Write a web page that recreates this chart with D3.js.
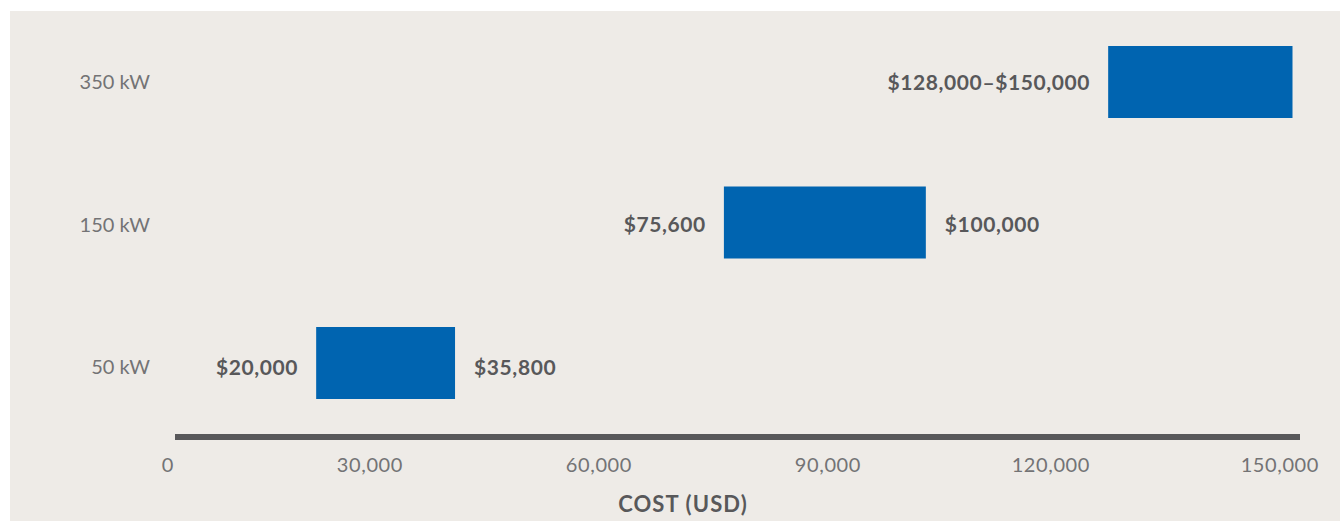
<!DOCTYPE html>
<html>
<head>
<meta charset="utf-8">
<script src="https://cdn.jsdelivr.net/npm/d3@7"></script>
<style>
  body { margin: 0; background: #ffffff; }
  svg { display: block; font-family: Lato, "Open Sans", sans-serif; }
  .catLabel { font-size: 20px; font-weight: 400; fill: #737375; }
  .tickLabel { font-size: 20px; font-weight: 400; fill: #737375; letter-spacing: 0.6px; }
  .valueLabel { font-size: 21px; font-weight: 700; fill: #58585a; letter-spacing: 0.6px; }
  .axisTitle { font-size: 22px; font-weight: 700; fill: #58585a; letter-spacing: 1.1px; }
</style>
</head>
<body>
<div id="chart"></div>
<script>
// data
var categories = ["350 kW", "150 kW", "50 kW"];
var lowCost = [128000, 75600, 20000];
var highCost = [150000, 100000, 35800];
var splitLabel = [false, true, true]; // 350 kW shows one "low–high" label
var tickValues = [0, 30000, 60000, 90000, 120000, 150000];
var axisTitle = "COST (USD)";

var rows = categories.map(function(c, i) {
  return {cat: c, low: lowCost[i], high: highCost[i], split: splitLabel[i]};
});

// area space
var width = 1340;
var height = 521;
var barHeight = 72;
var barCap = 11.5;   // bars overhang their values a little at both ends
var labelGap = 18;

var svg = d3.select("#chart")
  .append("svg")
  .attr("width", width)
  .attr("height", height);

// panel background
svg.append("rect")
  .attr("x", 10)
  .attr("y", 11)
  .attr("width", width - 10)
  .attr("height", height - 11)
  .style("fill", "#eeebe7");

// scales
var x = d3.scaleLinear()
  .domain([0, 150000])
  .range([181, 1281]);

// tick labels sit right-aligned on a slightly wider spacing
var xTick = x.copy().range([174, 1319]);

var y = d3.scalePoint()
  .domain(categories)
  .range([82, 363]);

var yText = y.copy().range([82, 367]);

var money = d3.format("$,");

// bars
svg.selectAll(".costBar")
  .data(rows)
  .enter()
  .append("rect")
  .attr("class", "costBar")
  .attr("x", function(d) { return x(d.low) - barCap; })
  .attr("y", function(d) { return y(d.cat) - barHeight / 2; })
  .attr("width", function(d) { return x(d.high) - x(d.low) + 2 * barCap; })
  .attr("height", barHeight)
  .style("fill", "#0064b0");

// left value labels
svg.selectAll(".lowLabel")
  .data(rows)
  .enter()
  .append("text")
  .attr("class", "valueLabel")
  .attr("x", function(d) { return x(d.low) - barCap - labelGap; })
  .attr("y", function(d) { return yText(d.cat); })
  .attr("dy", "0.36em")
  .style("text-anchor", "end")
  .text(function(d) {
    return d.split ? money(d.low) : money(d.low) + "\u2013" + money(d.high);
  });

// right value labels
svg.selectAll(".highLabel")
  .data(rows.filter(function(d) { return d.split; }))
  .enter()
  .append("text")
  .attr("class", "valueLabel")
  .attr("x", function(d) { return x(d.high) + barCap + labelGap + 1; })
  .attr("y", function(d) { return yText(d.cat); })
  .attr("dy", "0.36em")
  .text(function(d) { return money(d.high); });

// category labels
svg.selectAll(".catLabel")
  .data(categories)
  .enter()
  .append("text")
  .attr("class", "catLabel")
  .attr("x", 150)
  .attr("y", function(d) { return yText(d); })
  .attr("dy", "0.36em")
  .style("text-anchor", "end")
  .text(function(d) { return d; });

// x axis line
var axisY = 437;
svg.append("line")
  .attr("x1", x(0) - 6)
  .attr("x2", xTick(150000) - 19)
  .attr("y1", axisY)
  .attr("y2", axisY)
  .style("stroke", "#58585a")
  .style("stroke-width", 6);

// tick labels
svg.selectAll(".tickLabel")
  .data(tickValues)
  .enter()
  .append("text")
  .attr("class", "tickLabel")
  .attr("x", function(d) { return xTick(d); })
  .attr("y", axisY + 28)
  .attr("dy", "0.36em")
  .style("text-anchor", "end")
  .text(function(d) { return d3.format(",")(d); });

// axis title
svg.append("text")
  .attr("class", "axisTitle")
  .attr("x", 683)
  .attr("y", 504)
  .attr("dy", "0.36em")
  .style("text-anchor", "middle")
  .text(axisTitle);
</script>
</body>
</html>
